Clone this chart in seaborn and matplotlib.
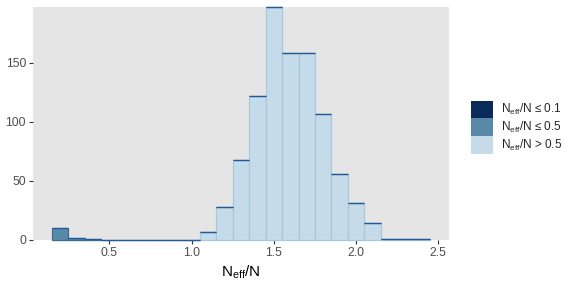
import numpy as np
import pandas as pd
import matplotlib
matplotlib.use("Agg")
import matplotlib.pyplot as plt
import matplotlib.patches as mpatches
import seaborn as sns

# ---- data ----
bin_centers = [0.2, 0.3, 0.4, 0.5, 0.6, 0.7, 0.8, 0.9, 1.0, 1.1, 1.2, 1.3,
               1.4, 1.5, 1.6, 1.7, 1.8, 1.9, 2.0, 2.1, 2.2, 2.3, 2.4]
count_le_01 = [0] * 23
count_le_05 = [10, 2, 1, 0, 0, 0, 0, 0, 0, 0, 0, 0,
               0, 0, 0, 0, 0, 0, 0, 0, 0, 0, 0]
count_gt_05 = [0, 0, 0, 0, 0, 0, 0, 0, 0, 7, 28, 68,
               122, 197, 158, 158, 107, 56, 31, 14, 1, 1, 1]
groups = ["le01", "le05", "gt05"]
group_labels = [r"$\mathrm{N_{eff}/N}$ ≤ 0.1",
                r"$\mathrm{N_{eff}/N}$ ≤ 0.5",
                r"$\mathrm{N_{eff}/N}$ > 0.5"]
x_ticks = [0.5, 1.0, 1.5, 2.0, 2.5]
y_ticks = [0, 50, 100, 150]

fills = {"le01": "#0a2a5c", "le05": "#5889a6", "gt05": "#c6dbe9"}
edges = {"le01": "#22599a", "le05": "#3b6c96", "gt05": "#aac8dc"}

df = pd.DataFrame({
    "x": bin_centers * 3,
    "w": count_le_01 + count_le_05 + count_gt_05,
    "g": ["le01"] * 23 + ["le05"] * 23 + ["gt05"] * 23,
})

sns.set_theme(style="white")
plt.rcParams["font.family"] = ["Liberation Sans", "DejaVu Sans"]
plt.rcParams["mathtext.fontset"] = "custom"
plt.rcParams["mathtext.rm"] = "Liberation Sans"
plt.rcParams["mathtext.it"] = "Liberation Sans:italic"

fig = plt.figure(figsize=(5.76, 2.88), dpi=100)
ax = fig.add_axes([0.0573, 0.1667, 0.7222, 0.8080])
ax.set_facecolor("#e5e5e5")

bin_edges = [round(0.15 + 0.1 * i, 2) for i in range(24)]
sns.histplot(data=df, x="x", weights="w", hue="g", hue_order=groups,
             multiple="stack", bins=bin_edges, palette=fills, alpha=1,
             linewidth=0.9, legend=False, ax=ax)

# per-group outline colours and draw order
fill_rgb = {g: np.array(matplotlib.colors.to_rgb(c)) for g, c in fills.items()}
zord = {"gt05": 2, "le05": 3, "le01": 4}
for p in ax.patches:
    fc = np.array(p.get_facecolor()[:3])
    g = min(fill_rgb, key=lambda k: np.abs(fill_rgb[k] - fc).sum())
    p.set_edgecolor(edges[g])
    p.set_zorder(zord[g])
    p.set_clip_on(False)

ax.set_xlim(0.035, 2.565)
ax.set_ylim(0, 197)
ax.set_xticks(x_ticks)
ax.set_xticklabels([f"{t:.1f}" for t in x_ticks])
ax.set_yticks(y_ticks)
for s in ax.spines.values():
    s.set_visible(False)
ax.tick_params(axis="both", which="both", length=3, width=0.8, color="#333333",
               labelcolor="#4d4d4d", labelsize=8.8, pad=2, bottom=True, left=True)
ax.set_xlabel(r"$\mathrm{N_{eff}/N}$", fontsize=11, color="black", labelpad=3)
ax.set_ylabel("")

handles = [mpatches.Patch(facecolor=fills[g], edgecolor="none", label=l)
           for g, l in zip(groups, group_labels)]
fig.legend(handles=handles, loc="center left", bbox_to_anchor=(0.817, 0.558),
           frameon=False, fontsize=8.5, handlelength=1.93, handleheight=1.93,
           handletextpad=0.65, labelspacing=0.0, borderpad=0, borderaxespad=0)

fig.savefig("out.png", dpi=100)
